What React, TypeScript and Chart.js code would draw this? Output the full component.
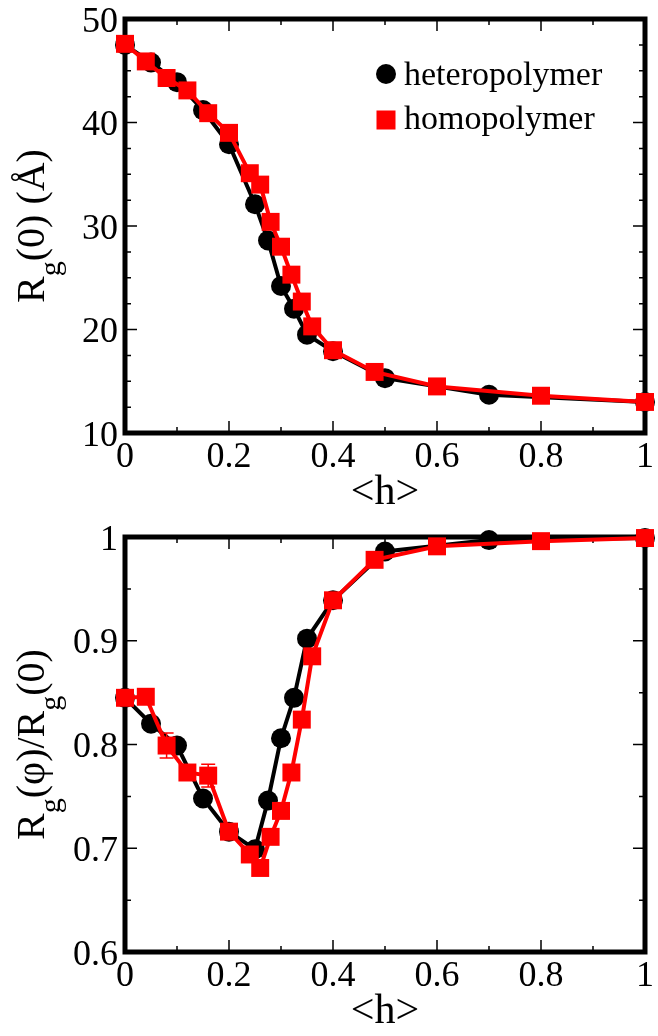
import React, { useEffect, useRef } from 'react';
import { Chart, registerables } from 'chart.js';
Chart.register(...registerables);

// ---------- data (top panel: Rg(0) in Å) ----------
const heteroX1 = [0, 0.05, 0.1, 0.15, 0.2, 0.25, 0.275, 0.3, 0.325, 0.35, 0.4, 0.5, 0.7, 1.0];
const heteroY1 = [47.5, 45.8, 43.9, 41.2, 37.9, 32.1, 28.6, 24.2, 22.0, 19.5, 17.9, 15.3, 13.7, 13.0];
const homoX1 = [0, 0.04, 0.08, 0.12, 0.16, 0.2, 0.24, 0.26, 0.28, 0.3, 0.32, 0.34, 0.36, 0.4, 0.48, 0.6, 0.8, 1.0];
const homoY1 = [47.6, 45.9, 44.3, 43.1, 40.9, 39.0, 35.1, 34.0, 30.4, 28.0, 25.3, 22.7, 20.3, 18.0, 15.9, 14.5, 13.6, 13.0];

// ---------- data (bottom panel: Rg(phi)/Rg(0)) ----------
const heteroX2 = [0, 0.05, 0.1, 0.15, 0.2, 0.25, 0.275, 0.3, 0.325, 0.35, 0.4, 0.5, 0.7, 1.0];
const heteroY2 = [0.845, 0.820, 0.799, 0.748, 0.716, 0.699, 0.746, 0.806, 0.845, 0.902, 0.939, 0.986, 0.997, 0.999];
const homoX2 = [0, 0.04, 0.08, 0.12, 0.16, 0.2, 0.24, 0.26, 0.28, 0.3, 0.32, 0.34, 0.36, 0.4, 0.48, 0.6, 0.8, 1.0];
const homoY2 = [0.845, 0.846, 0.799, 0.773, 0.770, 0.716, 0.694, 0.681, 0.711, 0.736, 0.773, 0.824, 0.885, 0.939, 0.978, 0.991, 0.996, 0.999];
const homoErr2 = [0, 0, 0.012, 0, 0.011, 0, 0, 0, 0, 0, 0, 0, 0, 0, 0, 0, 0, 0];

// ---------- ticks ----------
const xTicks = [0, 0.2, 0.4, 0.6, 0.8, 1];
const xTickLabels = ['0', '0.2', '0.4', '0.6', '0.8', '1'];
const yTicks1 = [10, 20, 30, 40, 50];
const yTickLabels1 = ['10', '20', '30', '40', '50'];
const yTicks2 = [0.6, 0.7, 0.8, 0.9, 1];
const yTickLabels2 = ['0.6', '0.7', '0.8', '0.9', '1'];

const seriesNames = ['heteropolymer', 'homopolymer'];
const BLACK = '#000000';
const RED = '#ff0000';
const FONT = '"Liberation Serif"';

type Part = { t: string; sub?: boolean };

function setFont(ctx: CanvasRenderingContext2D, size: number) {
  ctx.font = size + 'px ' + FONT;
}

function drawRich(ctx: CanvasRenderingContext2D, parts: Part[], cx: number, baseY: number, size: number, subSize: number, subShift: number) {
  const widths: number[] = [];
  let total = 0;
  parts.forEach((p) => {
    setFont(ctx, p.sub ? subSize : size);
    const w = ctx.measureText(p.t).width;
    widths.push(w);
    total += w;
  });
  let x = cx - total / 2;
  ctx.textAlign = 'left';
  ctx.textBaseline = 'alphabetic';
  parts.forEach((p, i) => {
    setFont(ctx, p.sub ? subSize : size);
    ctx.fillText(p.t, x, baseY + (p.sub ? subShift : 0));
    x += widths[i];
  });
}

function stepValues(min: number, max: number, step: number) {
  const out: number[] = [];
  const n = Math.round((max - min) / step);
  for (let i = 0; i <= n; i++) out.push(min + i * step);
  return out;
}

interface PanelCfg {
  yMin: number; yMax: number; yMinorStep: number;
  yTicks: number[]; yTickLabels: string[];
  yTitle: Part[];
  legend: boolean;
  errors?: { datasetIndex: number; err: number[] };
}

function makePlugin(cfg: PanelCfg) {
  return {
    id: 'panelDecor',
    beforeDatasetsDraw(chart: any) {
      const ctx: CanvasRenderingContext2D = chart.ctx;
      const { left, right, top, bottom } = chart.chartArea;
      const xs = chart.scales.x, ys = chart.scales.y;
      ctx.save();
      ctx.strokeStyle = BLACK;
      ctx.lineWidth = 1.5;
      stepValues(0, 1, 0.1).forEach((v) => {
        if (v <= 0.0001 || v >= 0.9999) return;
        const major = xTicks.some((t) => Math.abs(t - v) < 1e-6);
        const len = major ? 12 : 6;
        const px = xs.getPixelForValue(v);
        ctx.beginPath();
        ctx.moveTo(px, bottom); ctx.lineTo(px, bottom - len);
        ctx.moveTo(px, top); ctx.lineTo(px, top + len);
        ctx.stroke();
      });
      stepValues(cfg.yMin, cfg.yMax, cfg.yMinorStep).forEach((v) => {
        if (Math.abs(v - cfg.yMin) < 1e-6 || Math.abs(v - cfg.yMax) < 1e-6) return;
        const major = cfg.yTicks.some((t) => Math.abs(t - v) < 1e-6);
        const len = major ? 12 : 6;
        const py = ys.getPixelForValue(v);
        ctx.beginPath();
        ctx.moveTo(left, py); ctx.lineTo(left + len, py);
        ctx.moveTo(right, py); ctx.lineTo(right - len, py);
        ctx.stroke();
      });
      ctx.lineWidth = 5;
      ctx.lineJoin = 'miter';
      ctx.strokeRect(left, top, right - left, bottom - top);
      ctx.restore();
    },
    afterDatasetsDraw(chart: any) {
      if (!cfg.errors) return;
      const ctx: CanvasRenderingContext2D = chart.ctx;
      const xs = chart.scales.x, ys = chart.scales.y;
      const ds = chart.data.datasets[cfg.errors.datasetIndex];
      ctx.save();
      ctx.strokeStyle = ds.borderColor;
      ctx.lineWidth = 1.5;
      ds.data.forEach((p: any, i: number) => {
        const e = cfg.errors!.err[i];
        if (!e) return;
        const px = xs.getPixelForValue(p.x);
        const y1 = ys.getPixelForValue(p.y + e);
        const y2 = ys.getPixelForValue(p.y - e);
        ctx.beginPath();
        ctx.moveTo(px, y1); ctx.lineTo(px, y2);
        ctx.moveTo(px - 7, y1); ctx.lineTo(px + 7, y1);
        ctx.moveTo(px - 7, y2); ctx.lineTo(px + 7, y2);
        ctx.stroke();
      });
      ctx.restore();
    },
    afterDraw(chart: any) {
      const ctx: CanvasRenderingContext2D = chart.ctx;
      const { left, right, top, bottom } = chart.chartArea;
      const xs = chart.scales.x, ys = chart.scales.y;
      ctx.save();
      ctx.fillStyle = BLACK;
      setFont(ctx, 36);
      ctx.textBaseline = 'alphabetic';
      ctx.textAlign = 'center';
      xTicks.forEach((v, i) => {
        ctx.fillText(xTickLabels[i], xs.getPixelForValue(v), bottom + 34);
      });
      ctx.textAlign = 'right';
      cfg.yTicks.forEach((v, i) => {
        ctx.fillText(cfg.yTickLabels[i], left - 7, ys.getPixelForValue(v) + 12.5);
      });
      drawRich(ctx, [{ t: '<h>' }], (left + right) / 2, bottom + 71, 42, 32, 0);
      ctx.save();
      ctx.translate(44, (top + bottom) / 2);
      ctx.rotate(-Math.PI / 2);
      drawRich(ctx, cfg.yTitle, 0, 0, 40, 30, 16);
      ctx.restore();
      if (cfg.legend) {
        const ds = chart.data.datasets;
        const hetero = ds.find((d: any) => d.label === seriesNames[0]);
        const homo = ds.find((d: any) => d.label === seriesNames[1]);
        ctx.fillStyle = hetero.backgroundColor;
        ctx.beginPath();
        ctx.arc(386, 74, 10, 0, Math.PI * 2);
        ctx.fill();
        ctx.fillStyle = homo.backgroundColor;
        ctx.fillRect(386 - 9.5, 120 - 9.5, 19, 19);
        ctx.fillStyle = BLACK;
        setFont(ctx, 34);
        ctx.textAlign = 'left';
        ctx.fillText(seriesNames[0], 404, 85);
        ctx.fillText(seriesNames[1], 404, 129);
      }
      ctx.restore();
    },
  };
}

function toPoints(xs: number[], ys: number[]) {
  return xs.map((x, i) => ({ x, y: ys[i] }));
}

function buildConfig(hx: number[], hy: number[], mx: number[], my: number[], cfg: PanelCfg, pad: any): any {
  return {
    type: 'line',
    data: {
      datasets: [
        {
          label: seriesNames[1],
          data: toPoints(mx, my),
          borderColor: RED,
          backgroundColor: RED,
          borderWidth: 4,
          pointStyle: 'rect',
          pointRadius: 12.7,
          pointBorderWidth: 0,
          pointBackgroundColor: RED,
          tension: 0,
          clip: false,
          order: 0,
        },
        {
          label: seriesNames[0],
          data: toPoints(hx, hy),
          borderColor: BLACK,
          backgroundColor: BLACK,
          borderWidth: 4,
          pointStyle: 'circle',
          pointRadius: 10,
          pointBorderWidth: 0,
          pointBackgroundColor: BLACK,
          tension: 0,
          clip: false,
          order: 1,
        },
      ],
    },
    options: {
      responsive: false,
      maintainAspectRatio: false,
      animation: false,
      devicePixelRatio: 1,
      events: [],
      font: { family: FONT },
      layout: { padding: pad },
      scales: {
        x: { type: 'linear', min: 0, max: 1, display: false },
        y: { type: 'linear', min: cfg.yMin, max: cfg.yMax, display: false },
      },
      plugins: { legend: { display: false }, tooltip: { enabled: false } },
    },
    plugins: [makePlugin(cfg)],
  };
}

export default function App() {
  const topRef = useRef<HTMLCanvasElement>(null);
  const botRef = useRef<HTMLCanvasElement>(null);

  useEffect(() => {
    const topCfg: PanelCfg = {
      yMin: 10, yMax: 50, yMinorStep: 2.5,
      yTicks: yTicks1, yTickLabels: yTickLabels1,
      yTitle: [{ t: 'R' }, { t: 'g', sub: true }, { t: '(0) (Å)' }],
      legend: true,
    };
    const botCfg: PanelCfg = {
      yMin: 0.6, yMax: 1, yMinorStep: 0.05,
      yTicks: yTicks2, yTickLabels: yTickLabels2,
      yTitle: [{ t: 'R' }, { t: 'g', sub: true }, { t: '(φ)/R' }, { t: 'g', sub: true }, { t: '(0)' }],
      legend: false,
      errors: { datasetIndex: 0, err: homoErr2 },
    };
    const c1 = new Chart(topRef.current!, buildConfig(heteroX1, heteroY1, homoX1, homoY1, topCfg,
      { left: 125, right: 13, top: 19, bottom: 85 }));
    const c2 = new Chart(botRef.current!, buildConfig(heteroX2, heteroY2, homoX2, homoY2, botCfg,
      { left: 125, right: 13, top: 19, bottom: 84 }));
    return () => { c1.destroy(); c2.destroy(); };
  }, []);

  return (
    <div style={{ position: 'absolute', left: 0, top: 0, width: 658, height: 1036, background: '#ffffff' }}>
      <canvas ref={topRef} width={658} height={518} style={{ position: 'absolute', left: 0, top: 0, width: 658, height: 518 }} />
      <canvas ref={botRef} width={658} height={518} style={{ position: 'absolute', left: 0, top: 518, width: 658, height: 518 }} />
    </div>
  );
}
